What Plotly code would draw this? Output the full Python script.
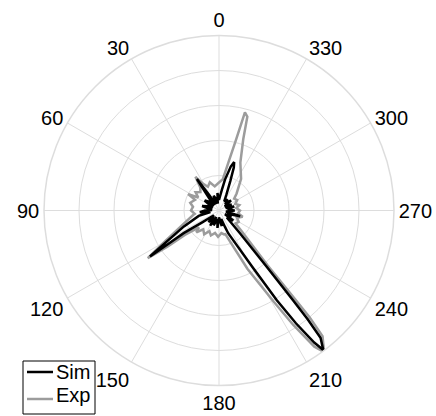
import plotly.graph_objects as go

# Simulated pattern (angle in degrees, normalized radius)
sim_theta = [0, 5, 10, 15, 20, 28, 32, 35, 38, 45, 50, 55, 65, 70, 75, 85, 90, 95, 100,
             105, 114.4, 120.8, 123.7, 123.4, 122.6, 125, 133, 138, 142, 150, 155, 160, 170,
             175, 180, 190, 195, 200, 202, 210.5, 212.8, 214.3, 215.8, 216.8, 218.6, 219.2,
             219.5, 220.3, 222.6, 228, 235, 238, 245, 248, 255, 262, 270, 275, 285, 290, 295,
             305, 310, 315, 322, 330, 335, 339, 341, 342.6, 345, 349, 352, 356, 360]
sim_r = [0.06, 0.1, 0.04, 0.07, 0.09, 0.04, 0.1, 0.22, 0.1, 0.04, 0.08, 0.1, 0.04, 0.07, 0.1, 0.04, 0.08, 0.11, 0.05,
         0.12, 0.22, 0.35, 0.474, 0.358, 0.24, 0.12, 0.04, 0.09, 0.05, 0.1, 0.04, 0.09, 0.05,
         0.1, 0.04, 0.09, 0.05, 0.1, 0.14, 0.37, 0.61, 0.78, 0.93, 0.995, 0.93, 0.8,
         0.665, 0.416, 0.177, 0.06, 0.1, 0.04, 0.08, 0.05, 0.125, 0.04, 0.09, 0.05, 0.09, 0.04, 0.08,
         0.04, 0.09, 0.05, 0.08, 0.06, 0.1, 0.18, 0.26, 0.29, 0.26, 0.18, 0.12, 0.08, 0.06]

# Experimental pattern
exp_theta = [0, 10, 18, 25, 31, 35, 39, 45, 52, 58, 62, 66, 75, 82, 90, 98,
             100, 112, 119.5, 123.8, 125, 125.5, 130, 134, 140, 148, 155, 162, 170,
             178, 186, 192, 195, 206, 211, 213, 215, 216.6, 219.5, 220.3, 220.6,
             221.5, 228, 232, 240, 248, 255, 262, 270, 278, 285, 292, 300, 308,
             314, 325, 336, 341.2, 343.2, 345.2, 346.5, 348.9, 353, 360]
exp_r = [0.16, 0.14, 0.17, 0.15, 0.18, 0.235, 0.17, 0.15, 0.17, 0.14, 0.2, 0.15, 0.17, 0.15, 0.16, 0.14,
         0.15, 0.23, 0.35, 0.49, 0.36, 0.24, 0.15, 0.18, 0.14, 0.16, 0.13, 0.15, 0.13,
         0.15, 0.13, 0.14, 0.14, 0.37, 0.61, 0.78, 0.95, 1.007, 0.93, 0.8, 0.665,
         0.42, 0.17, 0.12, 0.13, 0.11, 0.14, 0.11, 0.12, 0.1, 0.12, 0.1, 0.12, 0.11,
         0.14, 0.22, 0.3, 0.43, 0.56, 0.58, 0.41, 0.28, 0.18, 0.16]

angle_ticks = [0, 30, 60, 90, 120, 150, 180, 210, 240, 270, 300, 330]
angle_labels = [str(a) for a in angle_ticks]

series_names = ["Sim", "Exp"]
series_colors = ["#000000", "#9c9c9c"]

FONT = "Arial, Liberation Sans, sans-serif"
GRID = "#dddddd"
W, H = 436, 416

fig = go.Figure()
fig.add_trace(go.Scatterpolar(theta=exp_theta, r=exp_r, mode="lines", name="Exp",
                              line=dict(color=series_colors[1], width=2.5)))
fig.add_trace(go.Scatterpolar(theta=sim_theta, r=sim_r, mode="lines", name="Sim",
                              line=dict(color=series_colors[0], width=2.5)))


def px(x):
    return x / W


def py(y):
    return 1 - y / H


# compact boxed legend (bottom-left)
shapes = [dict(type="rect", xref="paper", yref="paper",
               x0=px(23), x1=px(95), y0=py(414), y1=py(361),
               line=dict(color="black", width=1), fillcolor="white", layer="above")]
annotations = []
for i, (name, col) in enumerate(zip(series_names, series_colors)):
    yl = 372 + i * 27
    yt = 372 + i * 23
    shapes.append(dict(type="line", xref="paper", yref="paper",
                       x0=px(27), x1=px(53), y0=py(yl), y1=py(yl),
                       line=dict(color=col, width=2.5), layer="above"))
    annotations.append(dict(text=name, xref="paper", yref="paper",
                            x=px(54), y=py(yt), xanchor="left", yanchor="middle",
                            showarrow=False, font=dict(size=20, family=FONT, color="black")))

fig.update_layout(
    width=W, height=H,
    margin=dict(l=0, r=0, t=0, b=0),
    paper_bgcolor="white", plot_bgcolor="white",
    font=dict(family=FONT, size=20, color="black"),
    polar=dict(
        domain=dict(x=[44 / W, 394 / W], y=[30.5 / H, 380.5 / H]),
        bgcolor="white",
        angularaxis=dict(direction="counterclockwise", rotation=90,
                         tickmode="array", tickvals=angle_ticks, ticktext=angle_labels,
                         gridcolor=GRID, gridwidth=1, linecolor=GRID, linewidth=1.5,
                         showline=True, ticks="", tickfont=dict(size=20, family=FONT)),
        radialaxis=dict(range=[0, 1], dtick=0.2, showticklabels=False, ticks="",
                        showline=False, gridcolor=GRID, gridwidth=1),
    ),
    showlegend=False,
    shapes=shapes,
    annotations=annotations,
)

fig.write_html("out.html")
